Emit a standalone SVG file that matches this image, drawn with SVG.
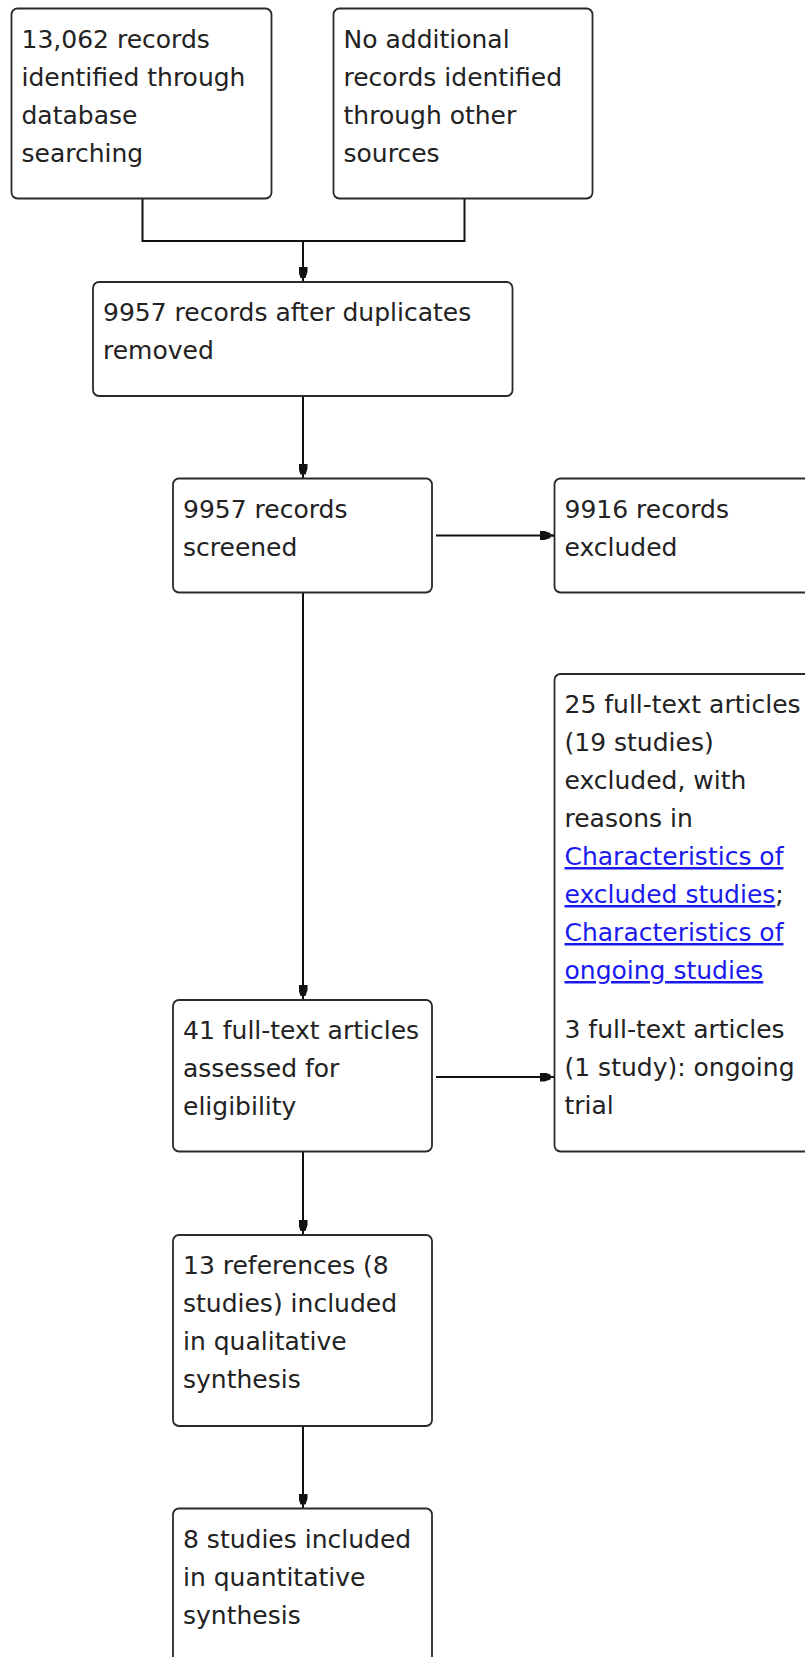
<svg xmlns="http://www.w3.org/2000/svg" width="805" height="1657" viewBox="0 0 805 1657">
<style>
.box{fill:#ffffff;stroke:#2a2a2a;stroke-width:1.8}
.t{font-family:"DejaVu Sans",Verdana,sans-serif;font-size:25px;fill:#222222}
.lnk{fill:#1a1aee;text-decoration:underline}
.edge{fill:none;stroke:#111111;stroke-width:2}
</style>
<defs>
<marker id="arr" viewBox="0 0 15 9" refX="15" refY="4.5" markerWidth="15" markerHeight="9" orient="auto" markerUnits="userSpaceOnUse">
<path d="M0,0 H5 L11,2 V7 L5,9 H0 z M11,3.5 H15 V5.5 H11 z" fill="#111111"/>
</marker>
</defs>
<rect width="805" height="1657" fill="#ffffff"/>
<g id="connectors">
<path class="edge" d="M142.5,198.5 V241 H464.5 V198.5"/>
<path class="edge" d="M303,241 V282" marker-end="url(#arr)"/>
<path class="edge" d="M303,396 V478.5" marker-end="url(#arr)"/>
<path class="edge" d="M436,535.5 H554.5" marker-end="url(#arr)"/>
<path class="edge" d="M303,592.5 V1000" marker-end="url(#arr)"/>
<path class="edge" d="M436,1077 H554.5" marker-end="url(#arr)"/>
<path class="edge" d="M303,1151.5 V1235" marker-end="url(#arr)"/>
<path class="edge" d="M303,1426 V1508.5" marker-end="url(#arr)"/>
</g>
<g id="n1">
<rect class="box" x="11.5" y="8.5" width="260" height="190" rx="6"/>
<text class="t"><tspan x="21.5" y="48">13,062 records</tspan><tspan x="21.5" y="86">identified through</tspan><tspan x="21.5" y="124">database</tspan><tspan x="21.5" y="162">searching</tspan></text>
</g>
<g id="n2">
<rect class="box" x="333.5" y="8.5" width="259" height="190" rx="6"/>
<text class="t"><tspan x="343.5" y="48">No additional</tspan><tspan x="343.5" y="86">records identified</tspan><tspan x="343.5" y="124">through other</tspan><tspan x="343.5" y="162">sources</tspan></text>
</g>
<g id="n3">
<rect class="box" x="93" y="282" width="419.5" height="114" rx="6"/>
<text class="t"><tspan x="103" y="321">9957 records after duplicates</tspan><tspan x="103" y="359">removed</tspan></text>
</g>
<g id="n4">
<rect class="box" x="173" y="478.5" width="259" height="114" rx="6"/>
<text class="t"><tspan x="183" y="517.5">9957 records</tspan><tspan x="183" y="555.5">screened</tspan></text>
</g>
<g id="n5">
<rect class="box" x="554.5" y="478.5" width="270" height="114" rx="6"/>
<text class="t"><tspan x="564.5" y="517.5">9916 records</tspan><tspan x="564.5" y="555.5">excluded</tspan></text>
</g>
<g id="n6">
<rect class="box" x="554.5" y="674" width="270" height="477.5" rx="6"/>
<text class="t"><tspan x="564.5" y="713">25 full-text articles</tspan><tspan x="564.5" y="751">(19 studies)</tspan><tspan x="564.5" y="789">excluded, with</tspan><tspan x="564.5" y="827">reasons in</tspan><tspan x="564.5" y="865" class="lnk">Characteristics of</tspan><tspan x="564.5" y="903" class="lnk">excluded studies</tspan><tspan>;</tspan><tspan x="564.5" y="941" class="lnk">Characteristics of</tspan><tspan x="564.5" y="979" class="lnk">ongoing studies</tspan><tspan x="564.5" y="1038">3 full-text articles</tspan><tspan x="564.5" y="1076">(1 study): ongoing</tspan><tspan x="564.5" y="1114">trial</tspan></text>
</g>
<g id="n7">
<rect class="box" x="173" y="1000" width="259" height="151.5" rx="6"/>
<text class="t"><tspan x="183" y="1039">41 full-text articles</tspan><tspan x="183" y="1077">assessed for</tspan><tspan x="183" y="1115">eligibility</tspan></text>
</g>
<g id="n8">
<rect class="box" x="173" y="1235" width="259" height="191" rx="6"/>
<text class="t"><tspan x="183" y="1274">13 references (8</tspan><tspan x="183" y="1312">studies) included</tspan><tspan x="183" y="1350">in qualitative</tspan><tspan x="183" y="1388">synthesis</tspan></text>
</g>
<g id="n9">
<rect class="box" x="173" y="1508.5" width="259" height="200" rx="6"/>
<text class="t"><tspan x="183" y="1547.5">8 studies included</tspan><tspan x="183" y="1585.5">in quantitative</tspan><tspan x="183" y="1623.5">synthesis</tspan></text>
</g>
</svg>
